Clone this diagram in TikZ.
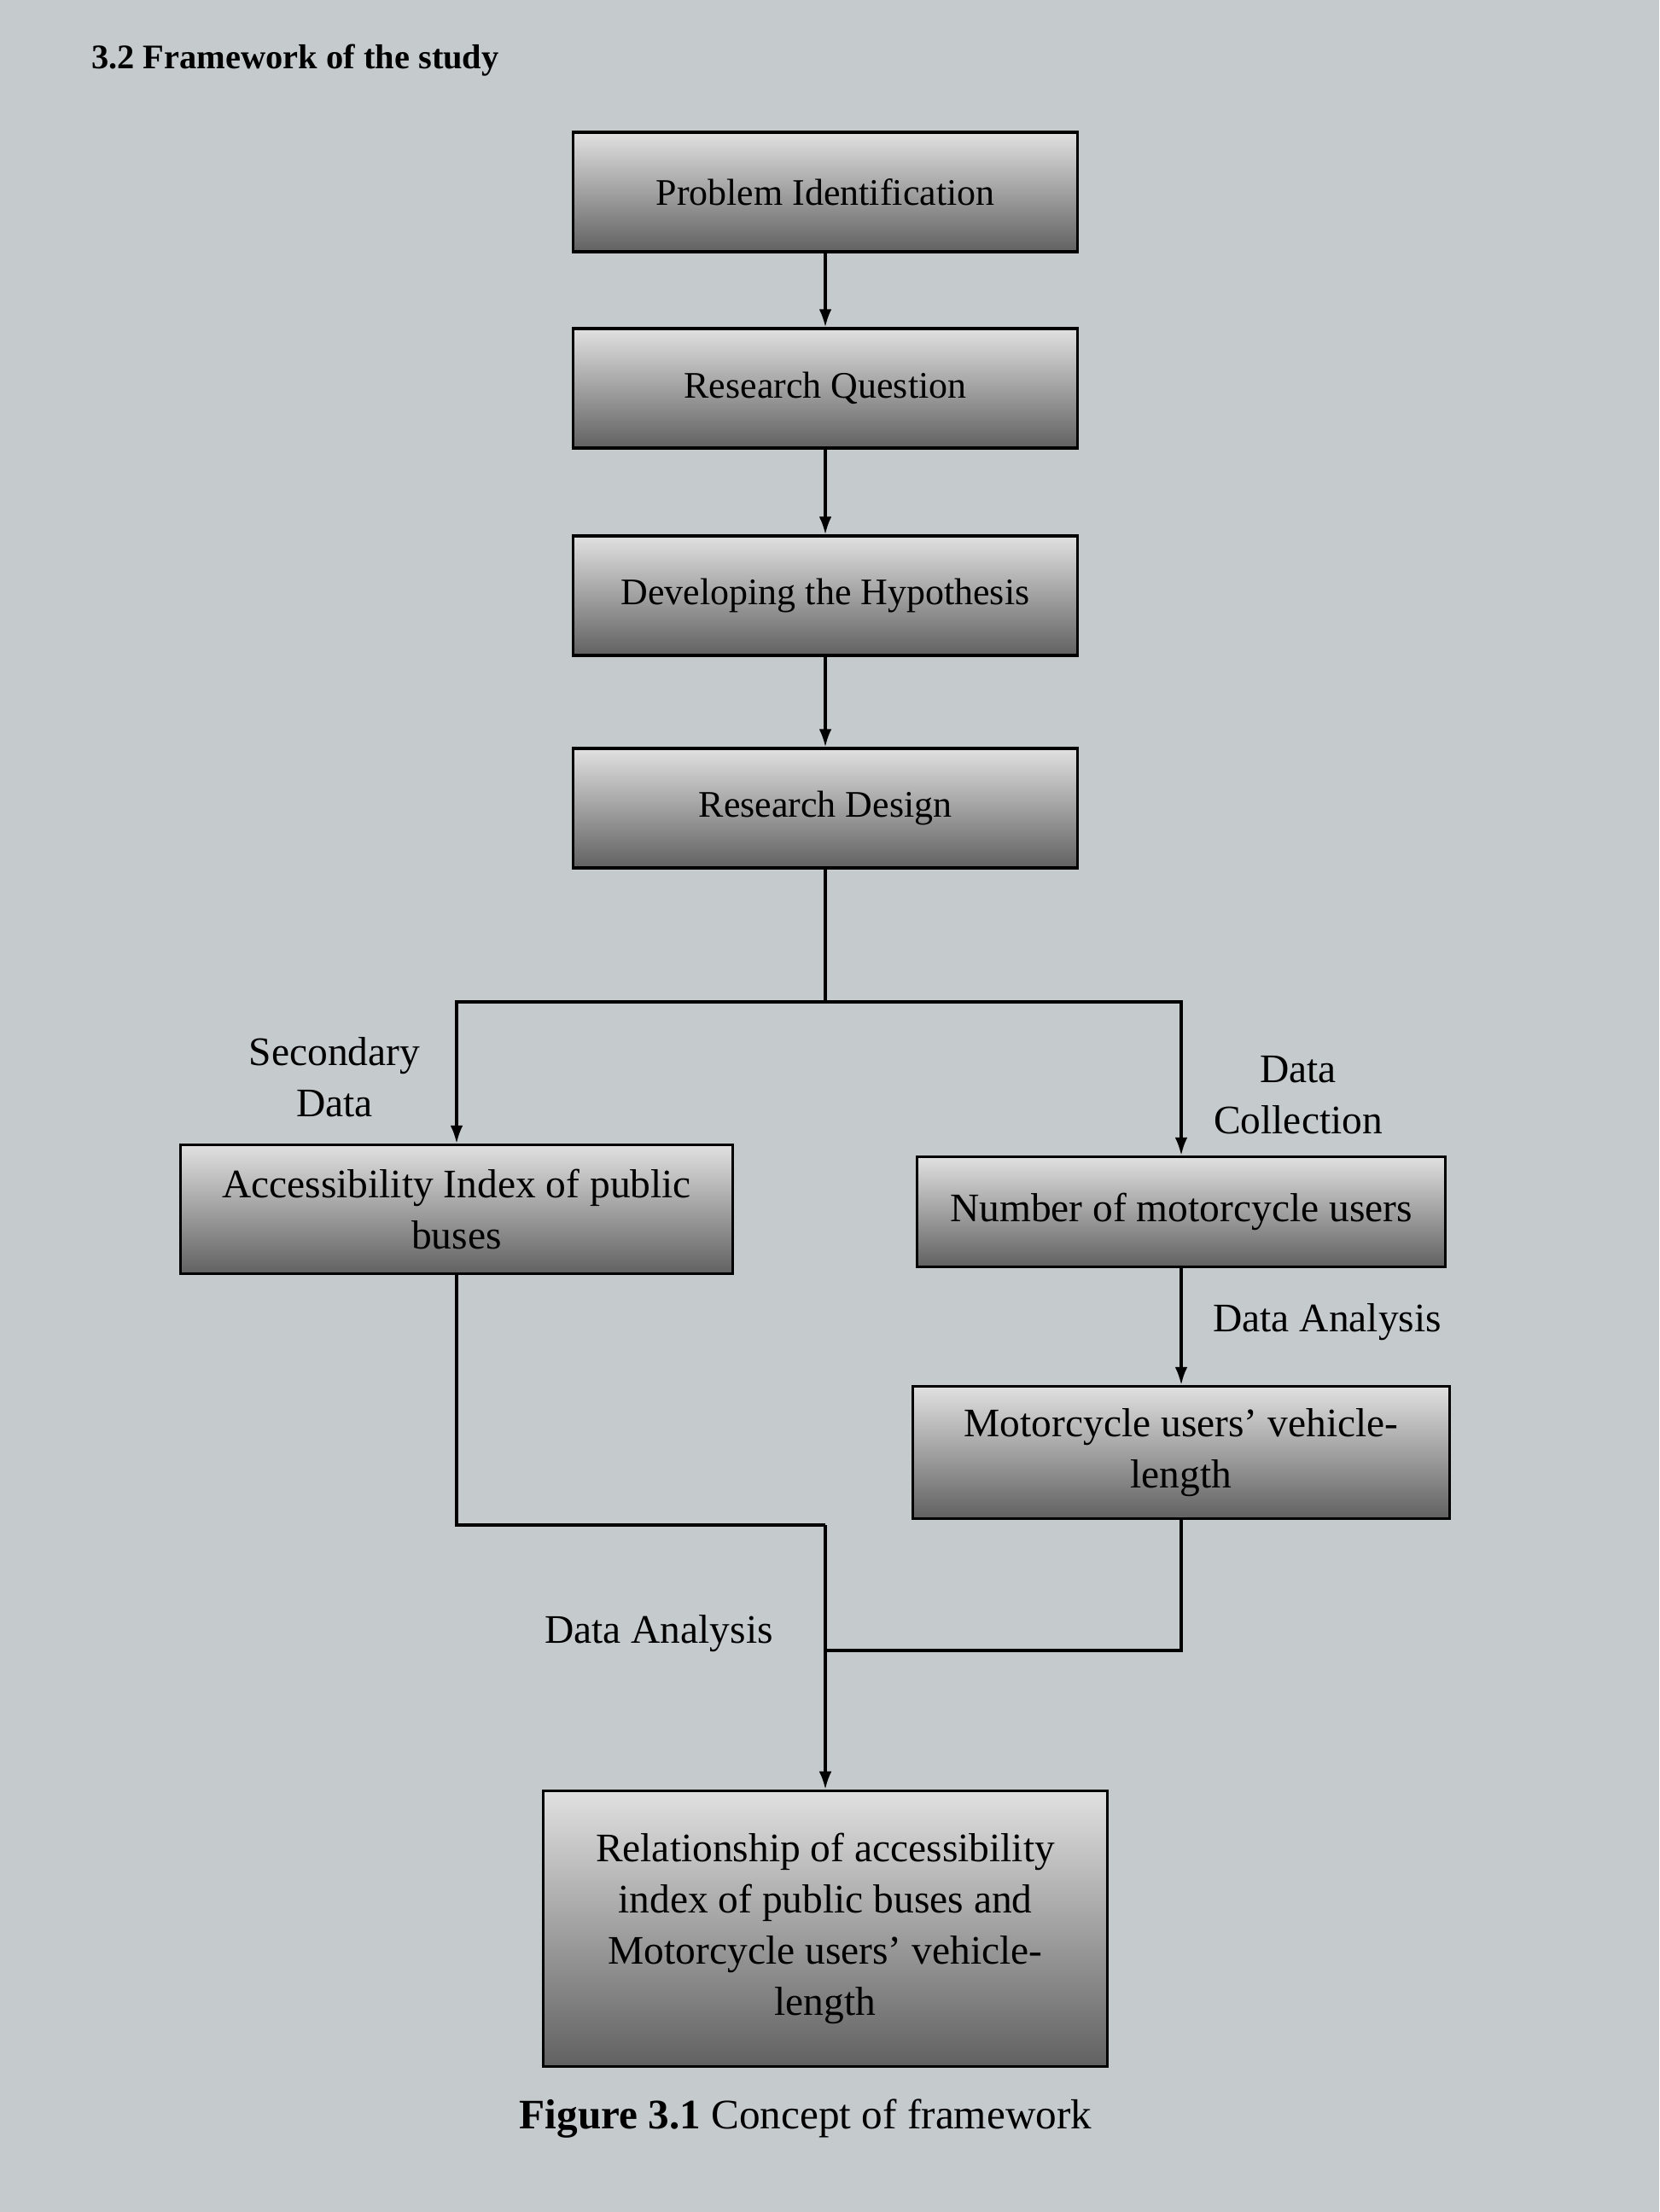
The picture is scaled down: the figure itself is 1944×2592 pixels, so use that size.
\documentclass[tikz,border=0pt]{standalone}
\usepackage{fontspec}
\setmainfont{Liberation Serif}
\usetikzlibrary{positioning}
\usetikzlibrary{arrows,arrows.meta,shapes}
\usetikzlibrary{calc}
\definecolor{paper}{RGB}{197,202,205}

\tikzset{stepbox/.style={draw, line width=0.9pt, top color=black!12, middle color=black!24, bottom color=black!62, align=center, inner sep=4pt}}

\begin{document}
\begin{tikzpicture}[x=0.01cm, y=-0.01cm, line width=0.9pt, >={Latex[length=6pt,width=4.2pt]}, font=\fontsize{13.5}{17}\selectfont]

  \fill[paper] (0,0) rectangle (1944,2592);
  \node[anchor=west, font=\fontsize{11.5}{14}\selectfont\bfseries] (title) at (94,71) {3.2 Framework of the study};

	%draw steps
 \def\w{5.9cm};
 \def\h{1.4cm};
    \foreach \y/\txt/\name in {225/Problem Identification/s1, 455/Research Question/s2, 698/Developing the Hypothesis/s3, 947/Research Design/s4}{
           \node[stepbox, minimum width=\w, minimum height=\h, font=\fontsize{12.5}{15}\selectfont] (\name) at (967, \y) {\txt};
    }
    \foreach \a/\b in {s1/s2, s2/s3, s3/s4}{
           \draw[->] (\a) -- (\b);
    }

%branches
  \node[stepbox, minimum width=6.46cm, minimum height=1.51cm] (acc) at (535,1417) {Accessibility Index of public\\buses};
  \node[stepbox, minimum width=6.18cm, minimum height=1.29cm] (num) at (1384,1420) {Number of motorcycle users};
  \node[stepbox, minimum width=6.29cm, minimum height=1.55cm] (veh) at (1384,1702) {Motorcycle users' vehicle-\\length};

  \coordinate (split) at (967,1174);
  \draw (s4) -- (split);
  \draw[->] (split) -| (acc);
  \draw[->] (split) -| (num);
  \draw[->] (num) -- (veh);

  \node[align=center] (sec) at (392,1262) {Secondary\\Data};
  \node[align=center] (col) at (1521,1283) {Data\\Collection};
  \node[anchor=west] (ana1) at (1408,1549) {Data Analysis};

%result
  \node[stepbox, minimum width=6.61cm, minimum height=3.23cm] (fin) at (967,2260) {Relationship of accessibility\\index of public buses and\\Motorcycle users' vehicle-\\length};

  \coordinate (joinL) at (967,1787);
  \coordinate (joinR) at (967,1934);
  \draw (acc) |- (joinL);
  \draw (veh) |- (joinR);
  \draw[->] (joinL) -- (fin);
  \node (ana2) at (772,1914) {Data Analysis};

  \node[font=\fontsize{14}{17}\selectfont] (cap) at (944,2483) {\textbf{Figure 3.1} Concept of framework};

\end{tikzpicture}
\end{document}
